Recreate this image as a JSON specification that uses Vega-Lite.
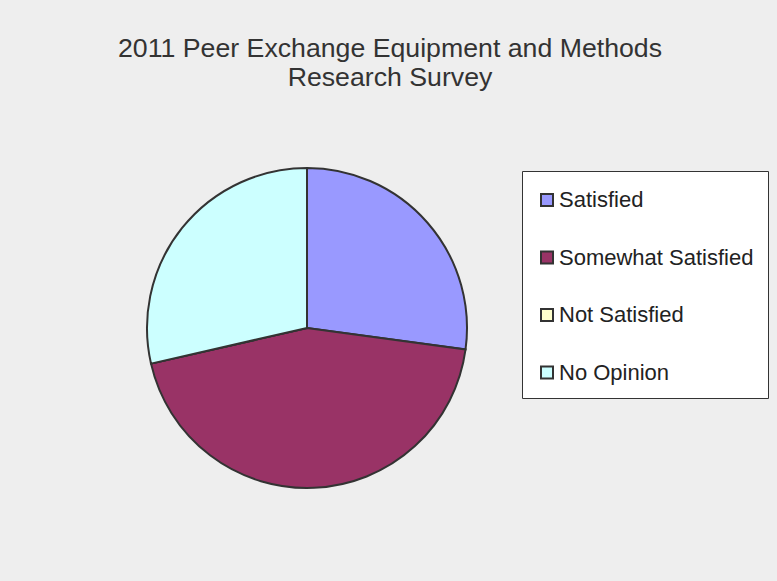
{
  "$schema": "https://vega.github.io/schema/vega-lite/v6.json",
  "width": 320,
  "height": 320,
  "autosize": {"type": "none"},
  "padding": {"left": 147, "top": 168, "right": 310, "bottom": 93},
  "background": "#eeeeee",
  "title": {
    "text": ["2011 Peer Exchange Equipment and Methods", "Research Survey"],
    "font": "Liberation Sans",
    "fontSize": 26.7,
    "fontWeight": "normal",
    "color": "#333333",
    "anchor": "middle",
    "frame": "group",
    "dx": 83,
    "baseline": "alphabetic",
    "lineHeight": 29,
    "offset": 51
  },
  "data": {
    "values": [
      {"response": "Satisfied", "count": 19, "i": 1},
      {"response": "Somewhat Satisfied", "count": 31, "i": 2},
      {"response": "Not Satisfied", "count": 0, "i": 3},
      {"response": "No Opinion", "count": 20, "i": 4}
    ]
  },
  "mark": {"type": "arc", "outerRadius": 160, "stroke": "#333333", "strokeWidth": 2},
  "encoding": {
    "theta": {"field": "count", "type": "quantitative", "stack": true},
    "order": {"field": "i", "type": "quantitative"},
    "color": {
      "field": "response",
      "type": "nominal",
      "scale": {
        "domain": ["Satisfied", "Somewhat Satisfied", "Not Satisfied", "No Opinion"],
        "range": ["#9999ff", "#993366", "#ffffcc", "#ccffff"]
      },
      "legend": {
        "title": " ",
        "titleFontSize": 1,
        "titlePadding": 3,
        "orient": "none",
        "legendX": 375,
        "legendY": 3,
        "fillColor": "#ffffff",
        "strokeColor": "#333333",
        "padding": 14,
        "symbolType": "square",
        "symbolSize": 144,
        "symbolStrokeColor": "#333333",
        "symbolStrokeWidth": 2,
        "symbolOpacity": 1,
        "labelFont": "Liberation Sans",
        "labelFontSize": 22,
        "labelColor": "#222222",
        "labelOffset": 1,
        "labelLimit": 400,
        "labelExpr": "datum.label + '\u00a0'",
        "rowPadding": 35.5
      }
    }
  },
  "config": {"view": {"stroke": null}}
}
